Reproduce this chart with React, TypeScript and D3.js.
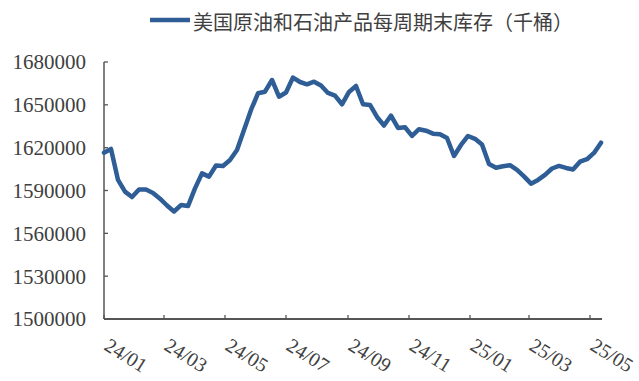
import React from "react";
import * as d3 from "d3";

const seriesName = "美国原油和石油产品每周期末库存（千桶）";
const firstWeek = "2024-01-05";
const lastWeek = "2025-05-16";
const stocks = [
  1616500, 1619100, 1597400, 1589200, 1585400, 1590700, 1590700, 1588300, 1584300, 1579500,
  1575300, 1579800, 1579100, 1591500, 1602000, 1599700, 1607500, 1607200, 1611400, 1618400,
  1632400, 1646400, 1658100, 1659200, 1667400, 1655700, 1658600, 1669100, 1666000, 1664400,
  1666200, 1663500, 1658300, 1656500, 1650400, 1659000, 1663200, 1650400, 1649900, 1641500,
  1635500, 1642500, 1633800, 1634300, 1628200, 1632900, 1631900, 1629800, 1629400, 1626800,
  1614200, 1621900, 1628200, 1626200, 1622200, 1608600, 1605900, 1607000, 1607700, 1604400,
  1599900, 1594800, 1597400, 1600900, 1605400, 1607200, 1605800, 1604700, 1610200, 1611900,
  1616300, 1623500,
];
const yTicks = [1500000, 1530000, 1560000, 1590000, 1620000, 1650000, 1680000];
const xTickDates = [
  "2024-01-05", "2024-03-05", "2024-05-05", "2024-07-05", "2024-09-05",
  "2024-11-05", "2025-01-05", "2025-03-05", "2025-05-05",
];

const W = 639;
const H = 381;
const LINE_COLOR = "#2e5e95";
const AXIS_COLOR = "#555555";
const TEXT_COLOR = "#404040";

export default function App() {
  const parse = d3.utcParse("%Y-%m-%d");
  const start = parse(firstWeek) as Date;
  const end = parse(lastWeek) as Date;
  const dates = d3.utcDay.range(start, d3.utcDay.offset(end, 1), 7);
  const data = dates.map((d, i) => ({ date: d, value: stocks[i] }));

  const x = d3.scaleUtc().domain([start, end]).range([104, 601]);
  const y = d3.scaleLinear().domain([1500000, 1680000]).range([319, 62]);
  const fmt = d3.utcFormat("%y/%m");

  const line = d3
    .line<{ date: Date; value: number }>()
    .x((d) => x(d.date))
    .y((d) => y(d.value));

  return (
    <svg
      width={W}
      height={H}
      style={{ position: "absolute", left: 0, top: 0, background: "#ffffff" }}
    >
      {/* legend */}
      <line x1={150} x2={190} y1={20} y2={20} stroke={LINE_COLOR} strokeWidth={4.5} />
      <text
        x={193}
        y={21}
        dominantBaseline="central"
        fontFamily="'Noto Sans CJK SC', 'Noto Sans', sans-serif"
        fontSize={20}
        fill={TEXT_COLOR}
      >
        {seriesName}
      </text>

      {/* y axis */}
      <line x1={104} x2={104} y1={62} y2={319} stroke={AXIS_COLOR} strokeWidth={1.5} />
      {yTicks.map((t) => (
        <g key={t}>
          <line x1={104} x2={108} y1={y(t)} y2={y(t)} stroke={AXIS_COLOR} strokeWidth={1.3} />
          <text
            x={86}
            y={y(t)}
            dy="0.35em"
            textAnchor="end"
            fontFamily="'Liberation Serif', serif"
            fontSize={21}
            fill={TEXT_COLOR}
          >
            {t}
          </text>
        </g>
      ))}

      {/* x axis */}
      <line x1={104} x2={602} y1={319} y2={319} stroke={AXIS_COLOR} strokeWidth={1.8} />
      {xTickDates.map((s) => {
        const d = parse(s) as Date;
        const px = x(d);
        return (
          <g key={s}>
            <line x1={px} x2={px} y1={319} y2={315} stroke={AXIS_COLOR} strokeWidth={1.3} />
            <text
              transform={`translate(${px - 1},349) rotate(32)`}
              fontFamily="'Liberation Serif', serif"
              fontSize={20}
              fill={TEXT_COLOR}
            >
              {fmt(d)}
            </text>
          </g>
        );
      })}

      {/* series */}
      <path
        d={line(data) || ""}
        fill="none"
        stroke={LINE_COLOR}
        strokeWidth={4.5}
        strokeLinejoin="round"
        strokeLinecap="round"
      />
    </svg>
  );
}
